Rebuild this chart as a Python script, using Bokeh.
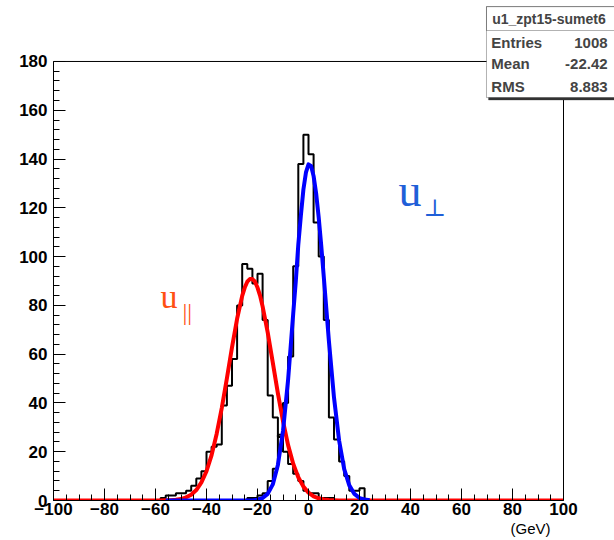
from bokeh.plotting import figure
from bokeh.models import Range1d, SingleIntervalTicker, Label, BoxAnnotation, Span, Title
from bokeh.embed import file_html
from bokeh.resources import INLINE

# ---- data ----
bin_width = 2
# u_parallel histogram (fitted in red), bins starting at -58
par_start = -58
par_counts = [1, 2, 2, 3, 3, 4, 6, 9, 12, 20,
              22, 23, 39, 47, 58, 80, 97, 95, 89, 93,
              74, 43, 34, 26, 20, 15, 11, 8, 4, 3,
              3, 1, 1, 1]
# u_perp histogram (fitted in blue), bins starting at -24
perp_start = -24
perp_counts = [1, 1, 2, 3, 8, 13, 27, 40, 59, 96,
               138, 150, 142, 114, 100, 74, 34, 25, 16, 10,
               4, 4, 5]

# fit curves
red_x = [-100, -58, -56, -54, -52, -50, -48, -46, -44, -42, -40, -38, -36, -34, -32,
         -30, -28, -26, -25, -24, -23, -22, -21, -20, -19, -18, -16, -14, -12, -10,
         -8, -6, -4, -2, 0, 2, 4, 6, 8, 10, 12, 100]
red_y = [0, 0, 0.1, 0.1, 0.3, 0.6, 1.3, 2.4, 4.3, 7.4, 12.0, 18.6, 27.4, 38.0, 50.1,
         62.8, 74.5, 83.9, 87.3, 89.7, 90.8, 90.8, 89.7, 87.3, 84.0, 79.6, 68.9, 56.5, 43.9, 32.5,
         22.7, 15.1, 9.5, 5.7, 3.2, 1.7, 0.9, 0.4, 0.2, 0.1, 0, 0]
blue_x = [-56, -22, -20, -18, -16, -14, -12, -10, -8, -6, -5, -4, -3, -2, -1,
          0, 1, 2, 3, 4, 5, 6, 8, 10, 12, 14, 16, 18, 20, 22, 24]
blue_y = [0, 0, 0.3, 1.0, 2.7, 6.6, 14.6, 28.5, 49.5, 76.5, 89.6, 104.9, 116.7, 127.5, 134.5,
          137.8, 137.2, 133.0, 125.9, 116.0, 104.5, 91.6, 65.4, 42.2, 24.6, 12.9, 6.2, 2.7, 1.0, 0.4, 0.1]

x_limits = [-100, 100]
y_limits = [0, 180]
x_ticks_interval = 20
y_ticks_interval = 20
stats_title = "u1_zpt15-sumet6"
stats_names = ["Entries", "Mean", "RMS"]
stats_values = ["1008", "-22.42", "8.883"]
x_unit = "(GeV)"


def step_xy(start, width, counts):
    edges = [start + i * width for i in range(len(counts) + 1)]
    xs = [edges[0]] + edges
    ys = [0] + list(counts) + [0]
    return xs, ys


# frame extended to the right and to the top so the stats box can sit inside it
p = figure(width=614, height=540, x_range=Range1d(-100, 120), y_range=Range1d(0, 205),
           output_backend="svg", toolbar_location=None,
           min_border_left=53, min_border_right=0, min_border_top=0, min_border_bottom=40)
p.title.visible = False
p.background_fill_color = "white"
p.border_fill_color = "white"
p.outline_line_color = None
p.xgrid.visible = False
p.ygrid.visible = False

p.xaxis.ticker = SingleIntervalTicker(interval=x_ticks_interval, num_minor_ticks=4)
p.yaxis.ticker = SingleIntervalTicker(interval=y_ticks_interval, num_minor_ticks=5)
p.xaxis.bounds = tuple(x_limits)
p.yaxis.bounds = tuple(y_limits)
for ax in (p.xaxis, p.yaxis):
    ax.major_tick_in = 12
    ax.major_tick_out = 0
    ax.minor_tick_in = 6
    ax.minor_tick_out = 0
    ax.axis_line_color = "black"
    ax.major_tick_line_color = "black"
    ax.minor_tick_line_color = "black"
    ax.major_label_text_font = "Liberation Sans"
    ax.major_label_text_font_style = "bold"
    ax.major_label_text_font_size = "17px"
    ax.major_label_text_color = "black"
p.xaxis.major_label_standoff = 2
p.yaxis.major_label_standoff = 6

# frame top and right edges
p.add_layout(Span(location=y_limits[1], dimension="width", line_color="black", line_width=1))
p.segment(x0=[x_limits[1]], y0=[y_limits[0]], x1=[x_limits[1]], y1=[y_limits[1]],
          line_color="black", line_width=1)

xs, ys = step_xy(par_start, bin_width, par_counts)
p.step(xs, ys, mode="after", line_color="black", line_width=2)
xs, ys = step_xy(perp_start, bin_width, perp_counts)
p.step(xs, ys, mode="after", line_color="black", line_width=2)

p.line(red_x, red_y, line_color="#ff0000", line_width=4, line_join="round")
p.line(blue_x, blue_y, line_color="#0000ff", line_width=4, line_join="round")

# stats box
p.add_layout(BoxAnnotation(left=70.6, right=125, bottom=164.2, top=201.0,
                           fill_color="#333333", fill_alpha=1, line_color="#333333", level="annotation"))
p.add_layout(BoxAnnotation(left=69.8, right=125, bottom=165.2, top=202.5,
                           fill_color="white", fill_alpha=1, line_color="black", line_width=1, level="annotation"))
p.add_layout(BoxAnnotation(left=69.8, right=125, bottom=192.7, top=202.5,
                           fill_color="white", fill_alpha=0, line_color="black", line_width=1, level="annotation"))
p.add_layout(Label(x=94.3, y=197.6, text=stats_title, text_align="center", text_baseline="middle",
                   text_font="Liberation Sans", text_font_style="bold", text_font_size="14px",
                   level="overlay"))
for name, val, yv in zip(stats_names, stats_values, [187.6, 179.0, 169.7]):
    p.add_layout(Label(x=71.7, y=yv, text=name, text_align="left", text_baseline="middle",
                       text_font="Liberation Sans", text_font_style="bold", text_font_size="15px",
                       level="overlay"))
    p.add_layout(Label(x=117.3, y=yv, text=val, text_align="right", text_baseline="middle",
                       text_font="Liberation Sans", text_font_style="bold", text_font_size="15px",
                       level="overlay"))

# curve labels
p.add_layout(Label(x=-58.0, y=83.7, text="u", text_baseline="alphabetic",
                   text_font="Liberation Serif", text_font_size="34px", text_color="#ff5014"))
p.add_layout(Label(x=-49.4, y=77.1, text="||", text_baseline="alphabetic",
                   text_font="Liberation Serif", text_font_size="24px", text_color="#ff5014"))
p.add_layout(Label(x=35.3, y=127.2, text="u", text_baseline="alphabetic",
                   text_font="Liberation Serif", text_font_size="46px", text_color="#1f5fd8"))
p.add_layout(Label(x=45.1, y=120.1, text="\u22a5", text_baseline="alphabetic",
                   text_font="DejaVu Serif", text_font_size="24px", text_color="#1f5fd8"))

p.add_layout(Title(text=x_unit, align="right", offset=64, standoff=0,
                   text_font="Liberation Sans", text_font_style="normal",
                   text_font_size="15px", text_color="black"), "below")

open("out.html", "w").write(file_html(p, INLINE))
